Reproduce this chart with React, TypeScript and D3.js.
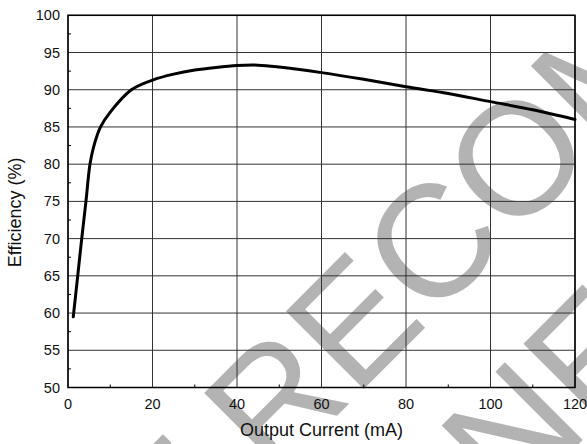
import React from 'react';
import * as d3 from 'd3';

// Efficiency vs. output current
const currentMA = [1.25, 2.3, 3.25, 4.25, 5.2, 6.1, 7.7, 10, 15, 20, 25, 30, 35, 40, 45, 50, 60, 70, 80, 90, 100, 110, 120];
const efficiencyPct = [59.5, 65, 70, 75, 80, 82.4, 85, 87, 90, 91.3, 92.1, 92.65, 93.0, 93.25, 93.3, 93.05, 92.3, 91.4, 90.4, 89.5, 88.4, 87.3, 86.0];

const xTicks = [0, 20, 40, 60, 80, 100, 120];
const xMinorTicks = [10, 30, 50, 70, 90, 110];
const yTicks = [50, 55, 60, 65, 70, 75, 80, 85, 90, 95, 100];
const yMinorTicks = [52.5, 57.5, 62.5, 67.5, 72.5, 77.5, 82.5, 87.5, 92.5, 97.5];

// watermark text, each line split where its "E" sits so the letters land precisely
const watermarkLine1 = ['NOT R', 'ECOMMENDED'];
const watermarkLine2 = ['FOR N', 'EW DESIGN'];

const W = 587;
const H = 444;
const left = 68;
const right = 575;
const top = 15.3;
const bottom = 387.5;
const FONT = '"Liberation Sans", Arial, Helvetica, sans-serif';

export default function App() {
  const x = d3.scaleLinear().domain([0, 120]).range([left, right]);
  const y = d3.scaleLinear().domain([50, 100]).range([bottom, top]);

  const pts: [number, number][] = currentMA.map((c, i) => [c, efficiencyPct[i]]);
  const line = d3
    .line<[number, number]>()
    .x((d) => x(d[0]))
    .y((d) => y(d[1]))
    .curve(d3.curveCatmullRom.alpha(0.5));

  const wmSize = 160;

  return (
    <svg
      width={W}
      height={H}
      style={{ position: 'absolute', left: 0, top: 0, background: '#fff' }}
      fontFamily={FONT}
    >
      <rect x={0} y={0} width={W} height={H} fill="#fff" />

      {/* diagonal watermark */}
      <g transform="translate(353,319) rotate(-45)" fill="#b3b3b3" fontSize={wmSize}>
        <text x={-55} y={57} textAnchor="end">{watermarkLine1[0]}</text>
        <text x={-55} y={57} textAnchor="start">{watermarkLine1[1]}</text>
        <text x={90} y={248} textAnchor="end">{watermarkLine2[0]}</text>
        <text x={90} y={248} textAnchor="start">{watermarkLine2[1]}</text>
      </g>

      {/* grid */}
      <g stroke="#333" strokeWidth={1}>
        {xTicks.map((t) => (
          <line key={'gx' + t} x1={x(t)} x2={x(t)} y1={top} y2={bottom} />
        ))}
        {yTicks.map((t) => (
          <line key={'gy' + t} x1={left} x2={right} y1={y(t)} y2={y(t)} />
        ))}
      </g>

      {/* minor ticks */}
      <g stroke="#000" strokeWidth={1}>
        {xMinorTicks.map((t) => (
          <line key={'mx' + t} x1={x(t)} x2={x(t)} y1={bottom} y2={bottom - 3} />
        ))}
        {yMinorTicks.map((t) => (
          <line key={'my' + t} x1={left} x2={left + 3} y1={y(t)} y2={y(t)} />
        ))}
      </g>

      {/* frame */}
      <rect x={left} y={top} width={right - left} height={bottom - top} fill="none" stroke="#000" strokeWidth={1.5} />

      {/* curve */}
      <path d={line(pts) || ''} fill="none" stroke="#000" strokeWidth={3} strokeLinejoin="round" strokeLinecap="round" />

      {/* tick labels */}
      <g fontSize={14.5} fill="#111">
        {yTicks.map((t) => (
          <text key={'ly' + t} x={60} y={y(t)} textAnchor="end" dominantBaseline="central">
            {t}
          </text>
        ))}
        {xTicks.map((t) => (
          <text key={'lx' + t} x={x(t)} y={408.5} textAnchor="middle">
            {t}
          </text>
        ))}
      </g>

      {/* axis titles */}
      <text x={(left + right) / 2} y={436} textAnchor="middle" fontSize={18} fill="#111">
        Output Current (mA)
      </text>
      <text
        transform={`translate(21,${(top + bottom) / 2 + 11}) rotate(-90)`}
        textAnchor="middle"
        fontSize={18}
        fill="#111"
      >
        Efficiency (%)
      </text>
    </svg>
  );
}
